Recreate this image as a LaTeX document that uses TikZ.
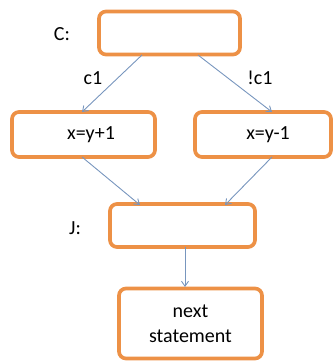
\documentclass[tikz,border=0pt]{standalone}
\usepackage{fontspec}
\setmainfont{Carlito}
\usetikzlibrary{arrows.meta}
\definecolor{boxorange}{RGB}{237,145,70}
\definecolor{edgeblue}{RGB}{120,150,190}
\begin{document}
\begin{tikzpicture}[x=1pt,y=-1pt,
  box/.style={draw=boxorange,line width=3.7pt,rounded corners=7pt,fill=white,inner sep=0pt,align=center,font=\fontsize{20}{25}\selectfont},
  conn/.style={draw=edgeblue,line width=0.9pt,-{Straight Barb[length=5pt,width=7pt]}},
  lbl/.style={font=\fontsize{20}{25}\selectfont,inner sep=0pt}]
\useasboundingbox (0,0) rectangle (334,361);
\node[box,minimum width=141pt,minimum height=43pt] (c) at (169.5,33) {};
\node[box,minimum width=143pt,minimum height=45pt] (l) at (83.5,134.5) {\hspace*{15pt}x=y+1};
\node[box,minimum width=136pt,minimum height=45pt] (r) at (263,134.5) {\hspace*{10pt}x=y-1};
\node[box,minimum width=145pt,minimum height=43pt] (j) at (182.5,225.5) {};
\node[box,minimum width=143pt,minimum height=70pt] (n) at (190.5,323.5) {next\\statement};
\node[lbl] (cl) at (62,34) {C:};
\node[lbl] (jl) at (75,228) {J:};
\coordinate (c1) at (142,55);
\coordinate (c2) at (198,55);
\coordinate (l1) at (82,112);
\coordinate (r1) at (272,112);
\coordinate (lb) at (82,157);
\coordinate (rb) at (272,157);
\coordinate (j1) at (140,205);
\coordinate (j2) at (225,205);
\coordinate (jb) at (185,247);
\coordinate (n1) at (185,287);
\draw[conn] (c1) -- (l1);
\draw[conn] (c2) -- (r1);
\node[lbl] (lc1) at (93,78) {c1};
\node[lbl] (lc2) at (260,78) {!c1};
\draw[conn] (lb) -- (j1);
\draw[conn] (rb) -- (j2);
\draw[conn] (jb) -- (n1);
\end{tikzpicture}
\end{document}
